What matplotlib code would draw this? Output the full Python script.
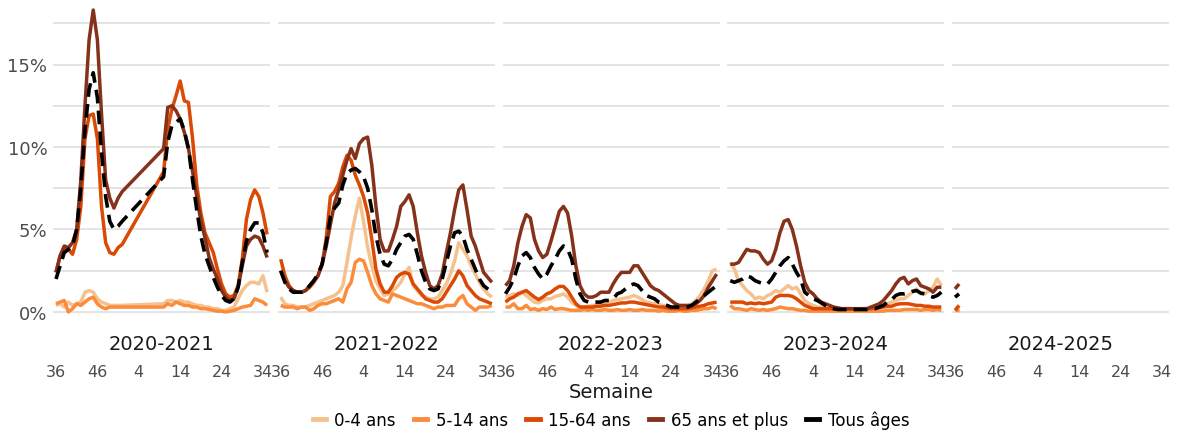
#!/usr/bin/env python3
"""Weekly share by age group, one panel per season"""

import numpy as np
import matplotlib
matplotlib.use('Agg')  # Non-interactive backend
import matplotlib.pyplot as plt
from matplotlib.lines import Line2D

nan = np.nan

# Season panels and week ticks (index 0 = week 36)
seasons = ["2020-2021", "2021-2022", "2022-2023", "2023-2024", "2024-2025"]
tick_pos = [0, 10, 20, 30, 40, 50]
tick_labels = ["36", "46", "4", "14", "24", "34"]

groups = ["0-4 ans", "5-14 ans", "15-64 ans", "65 ans et plus", "Tous âges"]

# ---- 2020-2021 (weeks 53 -> 9 missing) ----
s20_04 = [0.4, 0.5, 0.3, 0.6, 0.4, 0.5, 0.6, 1.2, 1.3, 1.2, 0.8, 0.6, 0.5, 0.4, 0.4, 0.4, 0.4,
          nan, nan, nan, nan, nan, nan, nan, nan, nan,
          0.5, 0.7, 0.7, 0.6, 0.7, 0.6, 0.6, 0.5, 0.4, 0.4, 0.3, 0.3, 0.2, 0.2, 0.1, 0.1,
          0.2, 0.3, 0.8, 1.3, 1.6, 1.8, 1.8, 1.7, 2.2, 1.2]
s20_514 = [0.5, 0.6, 0.7, 0.0, 0.2, 0.5, 0.4, 0.6, 0.8, 0.9, 0.5, 0.3, 0.2, 0.3, 0.3, 0.3, 0.3,
           nan, nan, nan, nan, nan, nan, nan, nan, nan,
           0.3, 0.5, 0.4, 0.6, 0.5, 0.4, 0.4, 0.3, 0.3, 0.2, 0.2, 0.15, 0.1, 0.05, 0.05, 0.0,
           0.05, 0.1, 0.2, 0.3, 0.35, 0.4, 0.8, 0.7, 0.6, 0.4]
s20_1564 = [2.4, 3.4, 3.9, 3.8, 3.5, 4.4, 6.4, 10.5, 11.9, 12.0, 10.5, 6.4, 4.2, 3.6, 3.5, 3.9, 4.1,
            nan, nan, nan, nan, nan, nan, nan, nan, nan,
            8.5, 11.1, 12.3, 13.1, 14.0, 12.8, 12.7, 10.5, 7.7, 6.0, 4.8, 4.2, 3.6, 2.6, 1.7, 1.1,
            0.9, 1.0, 1.6, 3.2, 5.6, 6.8, 7.4, 7.0, 6.0, 4.7]
s20_65 = [2.4, 3.4, 4.0, 3.9, 4.2, 5.0, 8.0, 12.5, 16.5, 18.3, 16.5, 12.0, 8.0, 6.9, 6.3, 6.9, 7.3,
          nan, nan, nan, nan, nan, nan, nan, nan, nan,
          9.9, 12.4, 12.5, 12.2, 11.7, 10.9, 9.9, 8.5, 7.0, 5.5, 4.5, 3.3, 2.6, 2.0, 1.3, 0.9,
          0.7, 0.8, 1.5, 2.8, 4.0, 4.4, 4.6, 4.5, 4.0, 3.3]
s20_all = [2.0, 2.8, 3.6, 3.8, 4.0, 5.0, 7.5, 11.0, 13.5, 14.5, 13.0, 9.7, 7.0, 5.5, 5.0, 5.2, 5.5,
           nan, nan, nan, nan, nan, nan, nan, nan, nan,
           8.2, 10.3, 11.3, 11.5, 11.7, 11.0, 9.9, 8.0, 6.2, 4.6, 3.5, 2.8, 2.1, 1.5, 1.0, 0.7,
           0.6, 0.8, 1.5, 3.0, 4.3, 5.0, 5.4, 5.4, 4.8, 3.6]

# ---- 2021-2022 ----
s21_04 = [0.9, 0.5, 0.4, 0.4, 0.3, 0.3, 0.3, 0.4, 0.5, 0.6, 0.7, 0.8, 0.9, 1.0, 1.2, 1.6, 3.0,
          4.5, 5.8, 6.9, 5.5, 3.9, 2.8, 1.9, 1.4, 1.0, 1.1, 1.3, 1.5, 1.8, 2.3, 2.7, 1.6, 1.3,
          1.0, 0.9, 0.8, 0.8, 0.9, 1.3, 1.7, 2.3, 3.1, 4.2, 3.8, 3.4, 2.8, 2.3, 1.8, 1.4, 1.1, 0.9]
s21_514 = [0.4, 0.3, 0.3, 0.3, 0.2, 0.3, 0.3, 0.1, 0.2, 0.4, 0.5, 0.5, 0.6, 0.7, 0.8, 0.6, 1.4,
           1.8, 3.0, 3.2, 3.1, 2.4, 1.6, 1.1, 0.8, 0.7, 0.6, 1.1, 1.0, 0.9, 0.8, 0.7, 0.6, 0.5,
           0.5, 0.4, 0.3, 0.2, 0.3, 0.3, 0.4, 0.4, 0.4, 0.8, 1.0, 0.5, 0.3, 0.1, 0.3, 0.3, 0.3, 0.4]
s21_1564 = [3.2, 2.2, 1.6, 1.3, 1.2, 1.2, 1.3, 1.5, 1.8, 2.2, 2.9, 4.5, 7.0, 7.3, 7.8, 8.8, 9.5,
            9.2, 8.3, 7.7, 7.0, 6.0, 4.4, 2.6, 1.7, 1.2, 1.2, 1.6, 2.1, 2.3, 2.4, 2.3, 1.7, 1.4,
            1.1, 0.8, 0.7, 0.6, 0.6, 0.8, 1.2, 1.6, 2.0, 2.5, 2.2, 1.6, 1.3, 1.0, 0.8, 0.7, 0.6, 0.5]
s21_65 = [2.5, 1.9, 1.5, 1.3, 1.2, 1.2, 1.3, 1.6, 1.9, 2.2, 2.9, 4.0, 5.3, 6.6, 7.4, 8.3, 9.2,
          9.9, 9.3, 10.2, 10.5, 10.6, 8.9, 6.4, 4.4, 3.7, 3.7, 4.4, 5.2, 6.4, 6.7, 7.1, 6.4, 4.8,
          3.4, 2.4, 1.6, 1.4, 1.6, 2.3, 3.6, 4.8, 6.2, 7.4, 7.7, 6.2, 4.6, 4.0, 3.2, 2.4, 2.1, 1.8]
s21_all = [2.5, 1.8, 1.4, 1.2, 1.2, 1.2, 1.3, 1.6, 1.9, 2.3, 2.9, 4.2, 5.8, 6.3, 6.6, 7.7, 8.4,
           8.6, 8.7, 8.5, 8.2, 7.5, 6.2, 4.6, 3.5, 2.9, 2.8, 3.2, 3.8, 4.2, 4.6, 4.7, 4.4, 3.5,
           2.5, 1.8, 1.4, 1.3, 1.4, 2.0, 3.0, 4.0, 4.8, 4.9, 4.6, 3.8, 3.2, 2.6, 2.0, 1.6, 1.4, 1.2]

# ---- 2022-2023 ----
s22_04 = [0.9, 1.0, 1.1, 1.0, 1.2, 1.0, 0.8, 0.6, 0.55, 0.7, 0.8, 0.8, 0.95, 1.0, 1.1, 0.9, 0.6,
          0.4, 0.3, 0.3, 0.35, 0.4, 0.4, 0.45, 0.5, 0.6, 0.7, 0.75, 0.8, 0.85, 0.9, 1.0, 0.9,
          0.75, 0.6, 0.55, 0.5, 0.45, 0.4, 0.35, 0.3, 0.3, 0.3, 0.3, 0.35, 0.5, 0.7, 1.0, 1.4,
          1.9, 2.5, 2.6]
s22_514 = [0.3, 0.3, 0.5, 0.2, 0.2, 0.4, 0.15, 0.2, 0.1, 0.2, 0.15, 0.3, 0.15, 0.2, 0.2, 0.15,
           0.1, 0.1, 0.1, 0.15, 0.1, 0.15, 0.1, 0.1, 0.15, 0.1, 0.1, 0.15, 0.1, 0.1, 0.15, 0.1,
           0.1, 0.15, 0.1, 0.1, 0.1, 0.05, 0.1, 0.05, 0.05, 0.05, 0.1, 0.05, 0.05, 0.1, 0.1, 0.15,
           0.2, 0.2, 0.3, 0.2]
s22_1564 = [0.6, 0.8, 0.9, 1.1, 1.2, 1.3, 1.1, 0.9, 0.75, 0.9, 1.1, 1.2, 1.4, 1.55, 1.55, 1.3,
            0.9, 0.5, 0.3, 0.3, 0.3, 0.3, 0.35, 0.35, 0.4, 0.4, 0.45, 0.5, 0.55, 0.55, 0.6, 0.6,
            0.55, 0.5, 0.45, 0.4, 0.35, 0.3, 0.3, 0.25, 0.2, 0.2, 0.2, 0.2, 0.2, 0.25, 0.3, 0.35,
            0.4, 0.5, 0.55, 0.6]
s22_65 = [1.6, 1.9, 2.8, 4.2, 5.2, 5.9, 5.7, 4.4, 3.7, 3.3, 3.5, 4.3, 5.2, 6.1, 6.4, 6.0, 4.6,
          2.8, 1.6, 1.1, 0.9, 0.9, 1.0, 1.2, 1.2, 1.2, 1.7, 2.1, 2.4, 2.4, 2.4, 2.8, 2.8, 2.4,
          2.0, 1.6, 1.4, 1.3, 1.1, 0.9, 0.7, 0.5, 0.4, 0.4, 0.4, 0.4, 0.5, 0.7, 1.0, 1.5, 1.9, 2.3]
s22_all = [1.1, 1.5, 2.0, 2.8, 3.4, 3.6, 3.3, 2.7, 2.3, 2.0, 2.3, 2.8, 3.2, 3.7, 4.0, 3.8, 3.2,
           2.0, 1.1, 0.7, 0.6, 0.6, 0.6, 0.6, 0.7, 0.7, 0.8, 1.1, 1.2, 1.4, 1.6, 1.7, 1.6, 1.3,
           1.0, 0.9, 0.8, 0.6, 0.5, 0.4, 0.3, 0.3, 0.3, 0.3, 0.3, 0.4, 0.6, 0.8, 1.0, 1.2, 1.4, 1.6]

# ---- 2023-2024 ----
s23_04 = [3.0, 2.6, 1.9, 1.6, 1.3, 1.1, 0.8, 0.9, 0.8, 1.0, 1.1, 1.3, 1.2, 1.4, 1.6, 1.4, 1.5,
          1.1, 0.7, 0.5, 0.4, 0.3, 0.3, 0.25, 0.2, 0.2, 0.2, 0.2, 0.2, 0.2, 0.2, 0.2, 0.2, 0.2,
          0.25, 0.3, 0.35, 0.4, 0.5, 0.6, 0.7, 0.8, 0.8, 1.0, 1.2, 1.4, 1.1, 1.1, 1.3, 1.5, 2.0, 1.6]
s23_514 = [0.4, 0.2, 0.2, 0.15, 0.1, 0.2, 0.15, 0.1, 0.15, 0.1, 0.15, 0.2, 0.3, 0.25, 0.2, 0.2,
           0.15, 0.1, 0.1, 0.05, 0.05, 0.05, 0.05, 0.05, 0.05, 0.05, 0.05, 0.05, 0.05, 0.05, 0.05,
           0.05, 0.05, 0.05, 0.05, 0.05, 0.05, 0.05, 0.1, 0.1, 0.1, 0.1, 0.15, 0.15, 0.15, 0.15,
           0.1, 0.15, 0.15, 0.1, 0.15, 0.1]
s23_1564 = [0.6, 0.6, 0.6, 0.6, 0.5, 0.55, 0.5, 0.55, 0.5, 0.55, 0.6, 0.9, 1.0, 1.0, 1.0, 0.95,
            0.8, 0.6, 0.4, 0.3, 0.2, 0.2, 0.2, 0.2, 0.2, 0.2, 0.2, 0.2, 0.2, 0.2, 0.2, 0.2, 0.2,
            0.2, 0.2, 0.25, 0.25, 0.3, 0.35, 0.35, 0.45, 0.5, 0.5, 0.5, 0.45, 0.4, 0.4, 0.35,
            0.35, 0.3, 0.3, 0.3]
s23_65 = [2.9, 2.9, 3.0, 3.4, 3.8, 3.7, 3.7, 3.6, 3.2, 2.9, 3.1, 3.8, 4.8, 5.5, 5.6, 5.0, 4.0,
          2.8, 1.8, 1.3, 1.1, 0.8, 0.6, 0.5, 0.4, 0.3, 0.25, 0.2, 0.2, 0.2, 0.2, 0.2, 0.2, 0.2,
          0.3, 0.4, 0.5, 0.7, 1.0, 1.3, 1.7, 2.0, 2.1, 1.7, 1.9, 2.0, 1.6, 1.5, 1.4, 1.2, 1.5, 1.5]
s23_all = [1.9, 1.8, 1.9, 2.0, 2.2, 2.1, 1.9, 1.8, 1.7, 1.7, 2.0, 2.4, 2.8, 3.1, 3.3, 2.9, 2.4,
           2.0, 1.2, 1.0, 0.8, 0.7, 0.55, 0.4, 0.3, 0.2, 0.15, 0.15, 0.15, 0.15, 0.15, 0.15, 0.15,
           0.15, 0.2, 0.2, 0.3, 0.4, 0.6, 0.75, 1.0, 1.1, 1.1, 1.15, 1.25, 1.3, 1.15, 1.1, 1.0,
           0.9, 1.0, 1.2]

# ---- 2024-2025 (first two weeks only) ----
s24_04 = [0.2, 0.2]
s24_514 = [0.1, 0.1]
s24_1564 = [0.1, 0.4]
s24_65 = [1.4, 1.7]
s24_all = [0.9, 1.1]

season_data = [
    [s20_04, s20_514, s20_1564, s20_65, s20_all],
    [s21_04, s21_514, s21_1564, s21_65, s21_all],
    [s22_04, s22_514, s22_1564, s22_65, s22_all],
    [s23_04, s23_514, s23_1564, s23_65, s23_all],
    [s24_04, s24_514, s24_1564, s24_65, s24_all],
]

colors = ["#F5C18D", "#FB8C3C", "#DA4A06", "#86321A", "black"]

W, H = 1179, 435


def rect(left, top, width, height):
    """Pixel box -> figure fraction box"""
    return [left / W, 1 - (top + height) / H, width / W, height / H]


def main():
    fig = plt.figure(figsize=(W / 100, H / 100), dpi=100)

    ylim = (-0.9, 19.0)
    px_per_pct = 16.5
    zero_px = 313
    ax_top = zero_px - ylim[1] * px_per_pct
    ax_h = (ylim[1] - ylim[0]) * px_per_pct
    ax_w = 217
    pitch = 224.75

    for k, season in enumerate(seasons):
        left = 53 + k * pitch
        ax = fig.add_axes(rect(left, ax_top, ax_w, ax_h))

        # gridlines (major and minor)
        for g in np.arange(0, 17.6, 2.5):
            ax.axhline(g, color="#DCDCDC", lw=1.1, zorder=0)

        for j, vals in enumerate(season_data[k]):
            y = np.array(vals, dtype=float)
            x = np.arange(len(y))
            ok = ~np.isnan(y)  # missing weeks are bridged
            if j == 4:
                ax.plot(x[ok], y[ok], color=colors[j], lw=2.6,
                        linestyle=(0, (3.8, 2.0)), zorder=5)
            else:
                ax.plot(x[ok], y[ok], color=colors[j], lw=2.5,
                        solid_capstyle="butt", zorder=2 + j * 0.1)

        ax.set_xlim(-0.72, 51.7)
        ax.set_ylim(*ylim)
        for s in ax.spines.values():
            s.set_visible(False)
        ax.set_xticks(tick_pos)
        ax.set_xticklabels(tick_labels)
        ax.tick_params(axis="x", length=0, pad=27, labelsize=11.5, labelcolor="#4D4D4D")
        if k == 0:
            ax.set_yticks([0, 5, 10, 15])
            ax.set_yticklabels(["0%", "5%", "10%", "15%"])
            ax.tick_params(axis="y", length=0, pad=4, labelsize=13, labelcolor="#4D4D4D")
        else:
            ax.set_yticks([])

        # strip label under the panel
        fig.text((left + ax_w / 2) / W, 1 - 345 / H, season, ha="center", va="center",
                 fontsize=14, color="#1A1A1A")

    fig.text(611 / W, 1 - 393 / H, "Semaine", ha="center", va="center",
             fontsize=14, color="#1A1A1A")

    handles = [Line2D([0], [0], color=c, lw=3.5) for c in colors]
    fig.legend(handles, groups, loc="center", bbox_to_anchor=(611 / W, 1 - 421 / H),
               ncol=5, frameon=False, fontsize=12, handlelength=0.8,
               handletextpad=0.5, columnspacing=1.1)

    fig.savefig("out.png", dpi=100)
    plt.close(fig)


if __name__ == "__main__":
    main()
